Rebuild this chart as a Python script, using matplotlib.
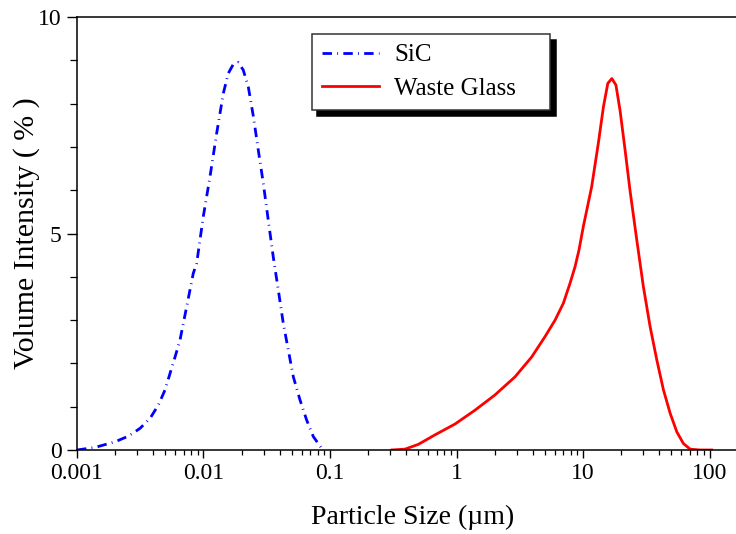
import numpy as np
import matplotlib
matplotlib.use("Agg")
import matplotlib.pyplot as plt
from matplotlib.ticker import LogLocator, FixedLocator, MultipleLocator, FuncFormatter

plt.rcParams['font.family'] = ['Liberation Serif', 'DejaVu Serif']

# SiC particle size distribution (size in um, volume %)
sic_size = [0.001, 0.00139, 0.0020, 0.00255, 0.00315, 0.00378, 0.0044, 0.00497,
            0.00544, 0.00596, 0.00652, 0.00736, 0.0083, 0.00883, 0.00996, 0.01125,
            0.0127, 0.01435, 0.0157, 0.0172, 0.0188, 0.0206, 0.0226, 0.0248,
            0.0271, 0.0297, 0.0325, 0.0356, 0.039, 0.0427, 0.0468, 0.0513,
            0.058, 0.0654, 0.0738, 0.0858, 0.09]
sic_vol = [0.0, 0.06, 0.19, 0.32, 0.50, 0.73, 1.04, 1.39,
           1.77, 2.15, 2.54, 3.31, 4.08, 4.31, 5.39, 6.31,
           7.31, 8.24, 8.70, 8.91, 8.95, 8.78, 8.39, 7.70,
           6.93, 6.16, 5.31, 4.46, 3.70, 2.93, 2.31, 1.69,
           1.15, 0.69, 0.31, 0.04, 0.0]

# Waste glass particle size distribution
glass_size = [0.308, 0.392, 0.499, 0.676, 0.973, 1.40, 2.01, 2.90, 3.93, 5.01,
              6.01, 6.99, 7.89, 8.64, 9.29, 10.05, 11.7, 13.2, 14.5, 15.7,
              16.9, 18.2, 19.6, 21.5, 23.5, 26.6, 30.0, 33.9, 38.3, 43.2,
              48.8, 55.1, 62.1, 70.2, 84, 104]
glass_vol = [0.0, 0.02, 0.13, 0.35, 0.60, 0.92, 1.27, 1.69, 2.15, 2.62,
             3.0, 3.39, 3.85, 4.23, 4.62, 5.16, 6.08, 7.08, 7.93, 8.47,
             8.58, 8.43, 7.85, 6.93, 6.0, 4.85, 3.77, 2.85, 2.08, 1.39,
             0.85, 0.42, 0.15, 0.02, 0.0, 0.0]

x_ticks = [0.001, 0.01, 0.1, 1, 10, 100]
x_tick_labels = ['0.001', '0.01', '0.1', '1', '10', '100']
y_ticks = [0, 5, 10]

fig = plt.figure(figsize=(7.36, 5.34), dpi=100)
ax = fig.add_axes([0.1046, 0.1573, 0.9112, 0.8107])

ax.plot(sic_size, sic_vol, color='blue', lw=2.0, linestyle=(0, (3.4, 1.9, 0.3, 1.9)),
        label='SiC')
ax.plot(glass_size, glass_vol, color='red', lw=2.0, label='Waste Glass')

ax.set_xscale('log')
ax.set_xlim(0.001, 200)
ax.set_ylim(0, 10)

ax.xaxis.set_major_locator(FixedLocator(x_ticks))
ax.set_xticks(x_ticks)
ax.set_xticklabels(x_tick_labels)
ax.xaxis.set_minor_locator(LogLocator(base=10, subs=np.arange(2, 10), numticks=20))
ax.xaxis.set_minor_formatter(FuncFormatter(lambda v, p: ''))
ax.set_yticks(y_ticks)
ax.yaxis.set_minor_locator(MultipleLocator(1))

ax.spines['right'].set_visible(False)
for s in ['left', 'bottom', 'top']:
    ax.spines[s].set_linewidth(1.1)

ax.tick_params(which='major', direction='out', width=1.0, labelsize=17, pad=4)
ax.tick_params(axis='x', which='major', length=5.5)
ax.tick_params(axis='x', which='minor', length=3.6, width=0.9)
ax.tick_params(axis='y', which='major', length=7.2)
ax.tick_params(axis='y', which='minor', length=5, width=0.9)

ax.set_xlabel('Particle Size (\u00b5m)', fontsize=20, labelpad=15)
ax.set_ylabel('Volume Intensity ( % )', fontsize=21.5)
ax.yaxis.set_label_coords(-0.055, 0.5)

leg = ax.legend(loc='upper left', bbox_to_anchor=(0.350, 0.785, 0.356, 0.176),
                mode='expand', borderaxespad=0,
                fontsize=18, frameon=True, fancybox=False, handlelength=2.3,
                handletextpad=0.6, borderpad=0.4, labelspacing=0.45,
                shadow={'ox': 4, 'oy': -4, 'facecolor': 'black', 'edgecolor': 'black', 'alpha': 1})
leg.get_frame().set_edgecolor('#333333')
leg.get_frame().set_linewidth(1.1)

fig.savefig('out.png', dpi=100)
